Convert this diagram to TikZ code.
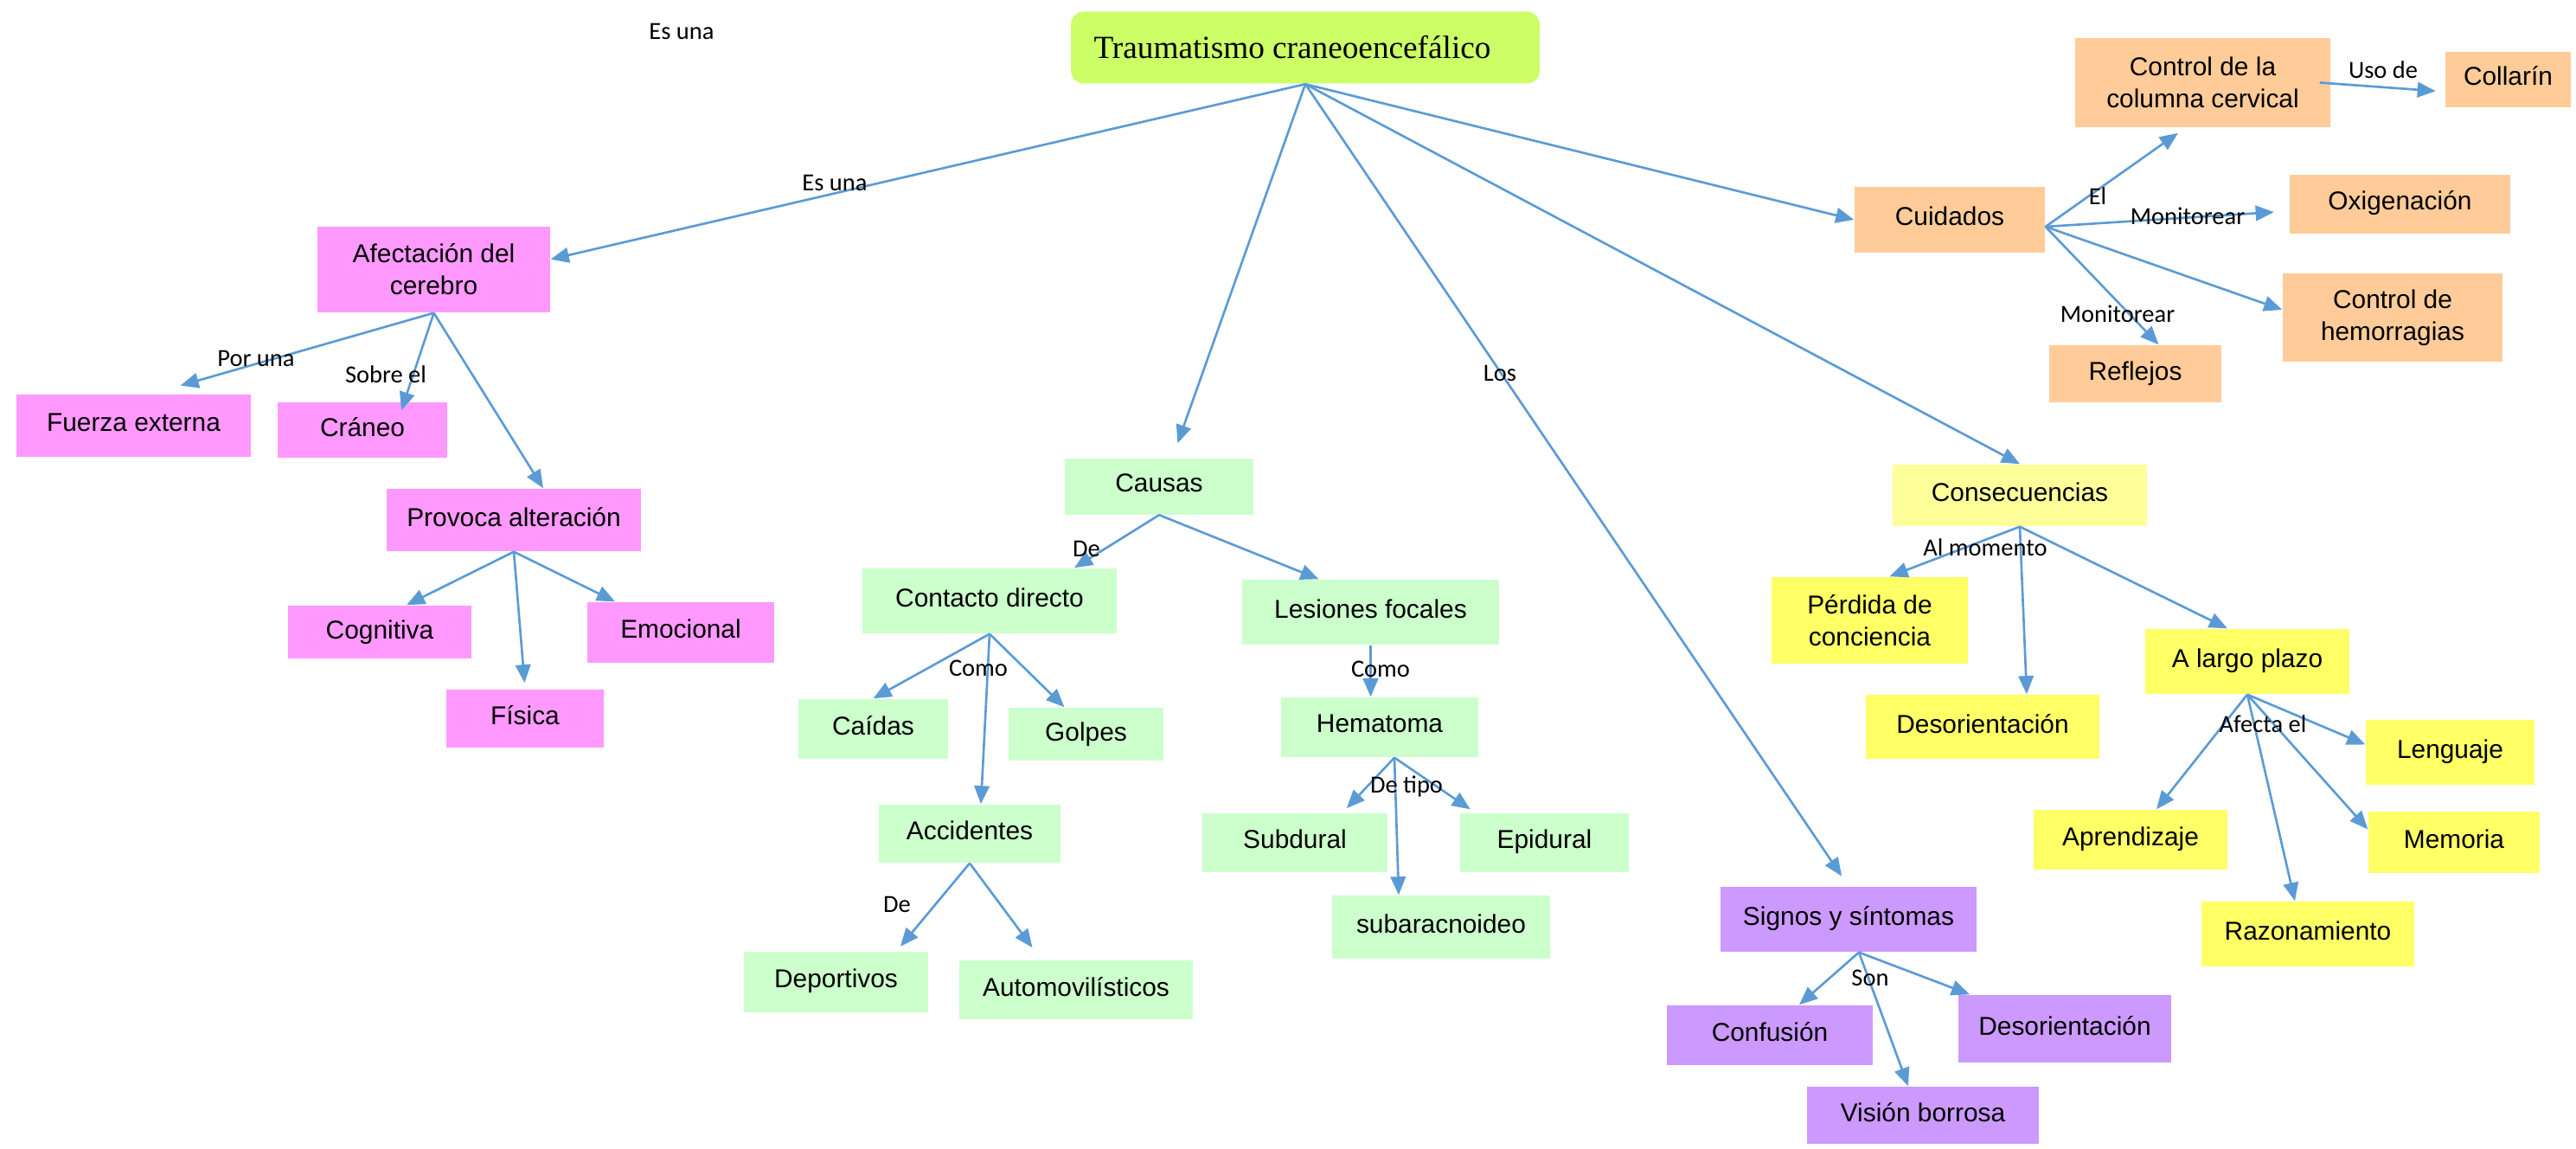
\documentclass[tikz,border=0pt]{standalone}
\usepackage{fontspec}
\setmainfont{Liberation Sans}
\newfontfamily\fuentetitulo{Liberation Serif}
\newfontfamily\fuenteetiq{Carlito}
\usetikzlibrary{arrows.meta}

\definecolor{lima}{HTML}{CCFF66}
\definecolor{rosa}{HTML}{FF99FF}
\definecolor{verde}{HTML}{CCFFCC}
\definecolor{naranja}{HTML}{FFCC99}
\definecolor{amarillo}{HTML}{FFFF66}
\definecolor{amarilloclaro}{HTML}{FFFF99}
\definecolor{morado}{HTML}{CC99FF}
\definecolor{azul}{HTML}{5B9BD5}

\begin{document}
\begin{tikzpicture}[
    caja/.style n args={3}{fill=#1, minimum width=#2cm, minimum height=#3cm,
        inner sep=0pt, align=center, font=\fontsize{8.5}{10.5}\selectfont},
    linea/.style={text depth=0.08cm},
    etiq/.style={inner sep=0pt, font=\fuenteetiq\fontsize{8.1}{10}\selectfont},
    flecha/.style={->, draw=azul, line width=0.75pt},
    >={Triangle[length=6pt,width=5pt]}
]
    % Marco
    \useasboundingbox (0,0) rectangle (29.78,-13.28);

    % Nodo central
    \node[caja={lima}{5.42}{0.83}, rounded corners=0.15cm,
        font=\fuentetitulo\fontsize{10.6}{12}\selectfont] (titulo) at (15.09,-0.55) {Traumatismo craneoencefálico\kern0.3cm};
    \node[etiq] (esuna0) at (7.88,-0.36) {Es una};

    % Afectación del cerebro
    \node[caja={rosa}{2.69}{0.99}] (afect) at (5.015,-3.115) {Afectación del\\cerebro};
    \node[caja={rosa}{2.71}{0.72}, linea] (fuerza) at (1.545,-4.92) {Fuerza externa};
    \node[caja={rosa}{1.96}{0.64}, linea] (craneo) at (4.19,-4.97) {Cráneo};
    \node[caja={rosa}{2.94}{0.72}, linea] (provoca) at (5.94,-6.01) {Provoca alteración};
    \node[caja={rosa}{2.12}{0.61}] (cognitiva) at (4.39,-7.305) {Cognitiva};
    \node[caja={rosa}{2.16}{0.70}, linea] (emocional) at (7.87,-7.31) {Emocional};
    \node[caja={rosa}{1.82}{0.67}, linea] (fisica) at (6.07,-8.305) {Física};

    % Causas
    \node[caja={verde}{2.18}{0.65}, linea] (causas) at (13.40,-5.62) {Causas};
    \node[caja={verde}{2.94}{0.75}, linea] (contacto) at (11.44,-6.945) {Contacto directo};
    \node[caja={verde}{2.97}{0.75}, linea] (lesiones) at (15.845,-7.075) {Lesiones focales};
    \node[caja={verde}{1.73}{0.69}, linea] (caidas) at (10.095,-8.425) {Caídas};
    \node[caja={verde}{1.79}{0.61}] (golpes) at (12.555,-8.485) {Golpes};
    \node[caja={verde}{2.10}{0.67}, linea] (accidentes) at (11.21,-9.635) {Accidentes};
    \node[caja={verde}{2.28}{0.69}, linea] (hematoma) at (15.95,-8.405) {Hematoma};
    \node[caja={verde}{2.14}{0.68}, linea] (subdural) at (14.97,-9.74) {Subdural};
    \node[caja={verde}{1.95}{0.68}, linea] (epidural) at (17.855,-9.74) {Epidural};
    \node[caja={verde}{2.52}{0.73}, linea] (subarac) at (16.66,-10.715) {subaracnoideo};
    \node[caja={verde}{2.13}{0.70}, linea] (deportivos) at (9.665,-11.35) {Deportivos};
    \node[caja={verde}{2.70}{0.68}, linea] (automov) at (12.44,-11.44) {Automovilísticos};

    % Consecuencias
    \node[caja={amarilloclaro}{2.94}{0.71}, linea] (consec) at (23.35,-5.725) {Consecuencias};
    \node[caja={amarillo}{2.27}{1.00}] (perdida) at (21.615,-7.17) {Pérdida de\\conciencia};
    \node[caja={amarillo}{2.70}{0.74}, linea] (desorA) at (22.92,-8.40) {Desorientación};
    \node[caja={amarillo}{2.36}{0.75}, linea] (largo) at (25.98,-7.645) {A largo plazo};
    \node[caja={amarillo}{1.95}{0.75}, linea] (lenguaje) at (28.325,-8.695) {Lenguaje};
    \node[caja={amarillo}{2.24}{0.69}, linea] (aprendizaje) at (24.63,-9.705) {Aprendizaje};
    \node[caja={amarillo}{1.98}{0.71}, linea] (memoria) at (28.37,-9.735) {Memoria};
    \node[caja={amarillo}{2.46}{0.75}, linea] (razonamiento) at (26.68,-10.795) {Razonamiento};

    % Signos y síntomas
    \node[caja={morado}{2.96}{0.75}, linea] (signos) at (21.37,-10.625) {Signos y síntomas};
    \node[caja={morado}{2.38}{0.69}, linea] (confusion) at (20.46,-11.965) {Confusión};
    \node[caja={morado}{2.46}{0.78}, linea] (desorB) at (23.87,-11.89) {Desorientación};
    \node[caja={morado}{2.68}{0.66}, linea] (vision) at (22.23,-12.89) {Visión borrosa};

    % Cuidados
    \node[caja={naranja}{2.20}{0.76}, linea] (cuidados) at (22.54,-2.54) {Cuidados};
    \node[caja={naranja}{2.95}{1.03}] (columna) at (25.465,-0.955) {Control de la\\columna cervical};
    \node[caja={naranja}{1.45}{0.64}, linea] (collarin) at (28.995,-0.92) {Collarín};
    \node[caja={naranja}{2.55}{0.68}, linea] (oxigenacion) at (27.745,-2.36) {Oxigenación};
    \node[caja={naranja}{2.54}{1.02}] (hemorragias) at (27.66,-3.67) {Control de\\hemorragias};
    \node[caja={naranja}{1.99}{0.66}] (reflejos) at (24.685,-4.32) {Reflejos};

    % Flechas desde el nodo central
    \draw[flecha] (titulo.south) -- (afect.5);
    \draw[flecha, shorten >=5pt] (titulo.south) -- (causas.65);
    \draw[flecha, shorten >=4pt] (titulo.south) -- (signos.north);
    \draw[flecha] (titulo.south) -- (consec.north);
    \draw[flecha] (titulo.south) -- (cuidados.west);

    % Flechas de afectación
    \draw[flecha, shorten >=10pt] (afect.south) -- (fuerza.61);
    \draw[flecha] (afect.south) -- ([xshift=0.45cm,yshift=-0.1cm]craneo.north);
    \draw[flecha] (afect.south) -- ([xshift=0.34cm]provoca.north);
    \draw[flecha] (provoca.south) -- ([xshift=0.31cm]cognitiva.north);
    \draw[flecha, shorten >=2pt] (provoca.south) -- (fisica.north);
    \draw[flecha] (provoca.south) -- ([xshift=-0.76cm]emocional.north);

    % Flechas de causas
    \draw[flecha] (causas.south) -- ([xshift=0.98cm]contacto.north);
    \draw[flecha] (causas.south) -- ([xshift=-0.6cm]lesiones.north);
    \draw[flecha] (contacto.south) -- (caidas.north);
    \draw[flecha] (contacto.south) -- ([xshift=0.13cm]accidentes.north);
    \draw[flecha] (contacto.south) -- ([xshift=-0.25cm]golpes.north);
    \draw[flecha, shorten >=2pt] (accidentes.south) -- ([xshift=0.7cm]deportivos.north);
    \draw[flecha, shorten >=5pt] (accidentes.south) -- ([xshift=-0.4cm]automov.north);
    \draw[flecha] (lesiones.south) -- (lesiones.south |- hematoma.north);
    \draw[flecha, shorten >=2pt] ([xshift=0.17cm]hematoma.south) -- ([xshift=0.55cm]subdural.north);
    \draw[flecha] ([xshift=0.17cm]hematoma.south) -- ([xshift=-0.49cm]subarac.north);
    \draw[flecha, shorten >=2pt] ([xshift=0.17cm]hematoma.south) -- ([xshift=-0.8cm]epidural.north);

    % Flechas de consecuencias
    \draw[flecha] (consec.south) -- ([xshift=0.23cm]perdida.north);
    \draw[flecha] (consec.south) -- ([xshift=0.51cm]desorA.north);
    \draw[flecha] (consec.south) -- ([xshift=-0.23cm]largo.north);
    \draw[flecha] (largo.south) -- ([xshift=0.3cm]aprendizaje.north);
    \draw[flecha] (largo.south) -- ([xshift=-0.15cm]razonamiento.north);
    \draw[flecha] (largo.south) -- ([yshift=0.15cm]memoria.west);
    \draw[flecha] (largo.south) -- ([yshift=0.09cm]lenguaje.west);

    % Flechas de signos
    \draw[flecha] ([xshift=0.12cm]signos.south) -- ([xshift=0.34cm]confusion.north);
    \draw[flecha] ([xshift=0.12cm]signos.south) -- ([xshift=-0.17cm]vision.north);
    \draw[flecha] ([xshift=0.12cm]signos.south) -- ([xshift=-1.1cm]desorB.north);

    % Flechas de cuidados
    \draw[flecha, shorten >=3pt] ([yshift=-0.08cm]cuidados.east) -- ([xshift=-0.2cm]columna.south);
    \draw[flecha, shorten >=5pt] ([yshift=-0.08cm]cuidados.east) -- ([yshift=-0.08cm]oxigenacion.west);
    \draw[flecha] ([yshift=-0.08cm]cuidados.east) -- ([yshift=0.09cm]hemorragias.west);
    \draw[flecha] ([yshift=-0.08cm]cuidados.east) -- ([xshift=0.27cm]reflejos.north);
    \draw[flecha, shorten >=3pt] ([xshift=-0.13cm]columna.east) -- ([yshift=-0.14cm]collarin.west);

    % Etiquetas
    \node[etiq] (esuna) at (9.65,-2.11) {Es una};
    \node[etiq] (poruna) at (2.96,-4.14) {Por una};
    \node[etiq] (sobreel) at (4.46,-4.33) {Sobre el};
    \node[etiq] (los) at (17.34,-4.31) {Los};
    \node[etiq] (de1) at (12.56,-6.34) {De};
    \node[etiq] (como1) at (11.31,-7.72) {Como};
    \node[etiq] (de2) at (10.37,-10.45) {De};
    \node[etiq] (como2) at (15.96,-7.73) {Como};
    \node[etiq] (detipo) at (16.26,-9.09) {De tipo};
    \node[etiq] (almomento) at (22.95,-6.33) {Al momento};
    \node[etiq] (afectael) at (26.16,-8.37) {Afecta el};
    \node[etiq] (son) at (21.62,-11.30) {Son};
    \node[etiq] (el) at (24.25,-2.27) {El};
    \node[etiq] (monitorear1) at (25.29,-2.50) {Monitorear};
    \node[etiq] (monitorear2) at (24.48,-3.63) {Monitorear};
    \node[etiq] (usode) at (27.55,-0.81) {Uso de};
\end{tikzpicture}
\end{document}
